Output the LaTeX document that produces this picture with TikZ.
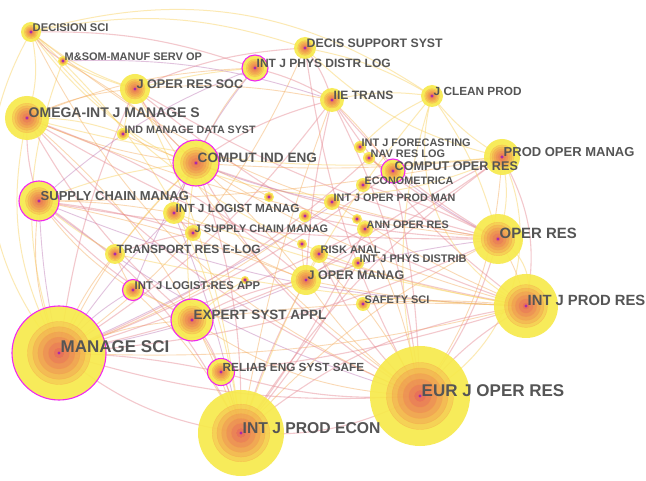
\documentclass[tikz,border=0pt]{standalone}
\usepackage{fontspec}
\setmainfont{Liberation Sans}
\definecolor{ringyel}{RGB}{247,234,76}
\definecolor{ringorg}{RGB}{246,156,70}
\definecolor{ringred}{RGB}{225,70,100}
\definecolor{ringpur}{RGB}{170,40,170}
\definecolor{hubpink}{RGB}{240,40,240}
\definecolor{lblgray}{RGB}{85,85,85}
\definecolor{edgepink}{RGB}{230,135,145}
\definecolor{edgeorg}{RGB}{245,170,90}
\definecolor{edgeyel}{RGB}{250,212,105}
\definecolor{edgemauve}{RGB}{185,110,175}
\tikzset{
  e1/.style={edgepink,line width=1.1pt,opacity=0.45},
  e2/.style={edgeorg,line width=0.9pt,opacity=0.45},
  e3/.style={edgeyel,line width=1pt,opacity=0.5},
  e4/.style={edgemauve,line width=0.9pt,opacity=0.42},
  disc/.style={ringyel,fill opacity=0.92},
  hub/.style={hubpink,line width=1.1pt},
  lbl/.style={anchor=base west,inner sep=0pt,xshift=1.5pt,text=lblgray}
}
\begin{document}
\begin{tikzpicture}[x=1pt,y=-1pt]
  \fill[white] (0,0) rectangle (646,481);
  \useasboundingbox (0,0) rectangle (646,481);
  % journal positions
  \foreach \n/\x/\y in {ds/31/32, msom/63/61, jors/135/89, omega/27/118,
      imds/123/134, cie/196/163, scm/39/201, ijlm/174/213, jscm/193/233,
      tre/115/254, ijlra/133/290, esa/192/320, ms/59/353, ress/221/372,
      ijpe/241/433, ejor/420/396, ijpr/526/306, opres/498/239, pom/502/157,
      jcp/432/96, iie/332/100, dss/305/48, ijpdl/255/68, ijf/360/147,
      nrl/369/158, cor/393/171, econ/363/185, ijopm/332/202, aor/365/229,
      risk/319/254, ijpd/358/263, jom/306/280, ss/363/304,
      u1/269/197, u2/305/216, u3/302/244, u4/245/280, u5/357/219}
    \coordinate (\n) at (\x,\y);
  % co-citation links
  \foreach \a/\b/\bd/\s in {
      ms/ds/35/e3, ms/msom/20/e3, ms/omega/20/e3, ms/scm/15/e2, ms/jors/8/e1,
      ms/cie/10/e2, ms/ejor/-10/e1, ms/ijpe/-15/e1, ms/opres/-10/e1,
      ms/pom/-12/e1, ms/ijpr/-8/e2, ms/jom/-6/e4, ms/iie/-10/e1, ms/cor/-8/e1,
      ms/econ/-5/e4, ms/nrl/-10/e1, ms/esa/10/e2, ms/ijlra/10/e4, ms/tre/10/e2,
      ms/aor/-5/e1, ms/ijopm/-8/e2, ms/dss/-15/e2, ms/ress/5/e1, ms/ijlm/5/e4,
      ejor/opres/-10/e1, ejor/pom/-15/e2, ejor/pom/-45/e3, ejor/ijpr/10/e1,
      ejor/ijpe/15/e1, ejor/cie/15/e1, ejor/iie/-10/e1, ejor/jors/12/e2,
      ejor/omega/12/e1, ejor/scm/10/e4, ejor/jom/10/e2, ejor/cor/-5/e1,
      ejor/jcp/15/e3, ejor/ds/20/e2, ejor/dss/10/e1, ejor/esa/15/e2,
      ejor/risk/10/e1, ejor/aor/-8/e2, ejor/ress/10/e1,
      ijpe/ijpr/15/e1, ijpe/opres/10/e2, ijpe/pom/10/e1, ijpe/cie/-10/e1,
      ijpe/omega/-15/e2, ijpe/scm/-15/e1, ijpe/jom/5/e1, ijpe/esa/-10/e2,
      ijpe/ijlm/-5/e4, ijpe/iie/5/e2, ijpe/jors/-10/e3, ijpe/ds/-20/e3,
      ijpe/ress/-5/e1, ijpe/jcp/10/e3, ijpe/ijlra/-10/e2,
      ijpr/opres/-10/e2, ijpr/opres/-40/e3, ijpr/pom/-20/e1, ijpr/cie/8/e2,
      ijpr/omega/10/e1, ijpr/scm/10/e4, ijpr/jom/5/e2, ijpr/iie/10/e1,
      ijpr/esa/-5/e2, ijpr/ijlm/5/e3, ijpr/tre/5/e3, ijpr/ss/-5/e2,
      ijpr/jors/10/e1, ijpr/ds/20/e3, ijpr/jcp/40/e3,
      opres/pom/-15/e3, opres/cie/5/e1, opres/omega/8/e2, opres/jors/8/e1,
      opres/iie/10/e1, opres/cor/5/e4, opres/scm/5/e1, opres/ds/15/e2,
      opres/jom/-5/e4, opres/nrl/5/e1, opres/econ/-5/e1,
      pom/cie/5/e2, pom/omega/10/e3, pom/jom/-5/e1, pom/ds/40/e3,
      pom/jcp/10/e3, pom/scm/5/e2, pom/dss/15/e3,
      cie/omega/8/e2, cie/scm/-8/e3, cie/jors/8/e1, cie/ijpdl/10/e2,
      cie/iie/10/e1, cie/esa/-8/e3, cie/ijlm/-5/e2, cie/tre/-5/e3,
      cie/jom/5/e2, omega/scm/-10/e1, omega/jors/10/e2, omega/ds/-15/e3,
      omega/imds/10/e3, omega/esa/-10/e1, omega/ijpdl/10/e2, omega/jom/10/e1,
      scm/ijlm/5/e2, scm/jscm/5/e1, scm/ijpdl/10/e4, scm/ijlra/-10/e2,
      scm/tre/-5/e3, scm/jom/5/e2, scm/esa/-10/e1,
      jors/ds/10/e3, jors/msom/5/e3, jors/iie/8/e2, jors/dss/10/e1,
      jors/ijpdl/5/e3, ds/msom/-10/e1, ds/dss/15/e3, ds/jcp/25/e3,
      ds/ijpdl/10/e1, msom/cie/8/e2, msom/iie/10/e4, ijpdl/iie/8/e1,
      ijpdl/ijlm/-10/e4, iie/jcp/10/e3, iie/cor/5/e2, iie/jom/-5/e1,
      dss/iie/10/e1, dss/jcp/10/e3, jcp/opres/10/e3, jcp/ijf/-10/e3,
      jom/esa/-10/e1, jom/ijlm/5/e2, jom/risk/10/e3, esa/ress/10/e1,
      esa/ijlra/-5/e3, tre/ijlra/-5/e2, ijlm/jscm/-5/e1, cor/nrl/10/e2,
      cor/econ/-10/e1, ijf/nrl/-10/e3, risk/ss/-10/e2, ijpd/jom/10/e2,
      u1/cie/-5/e2, u2/opres/-5/e1, u3/jom/-5/e2, u4/esa/-5/e3,
      u5/aor/-10/e2, imds/cie/-5/e2, imds/jors/5/e3, ijopm/cie/5/e4,
      ijopm/ijpr/-5/e2, ijpd/ijpe/5/e1, ss/ejor/5/e2, aor/ijpe/5/e1,
      scm/ms/-5/e4, tre/jscm/5/e1, ijlra/cie/5/e4, ress/ijpr/-5/e1}
    \draw[\s] (\a) to[bend left=\bd] (\b);
  % citation rings
  \foreach \n/\rad in {ds/10, msom/5, jors/15, omega/22, imds/6, cie/23,
      scm/20, ijlm/11, jscm/8, tre/10, ijlra/10.5, esa/21, ms/47, ress/13.5,
      ijpe/43, ejor/50, ijpr/32, opres/25, pom/18, jcp/11, iie/12, dss/11,
      ijpdl/13, ijf/6, nrl/6, cor/12, econ/7, ijopm/8, aor/8, risk/9, ijpd/6,
      jom/15, ss/7, u1/5, u2/6, u3/5, u4/4, u5/5}{
    \fill[disc] (\n) circle[radius=\rad];
    \foreach \k in {1,...,6}{
      \pgfmathtruncatemacro\p{17*\k}
      \fill[ringred!\p!ringorg,fill opacity=0.26] (\n) circle[radius={\rad*(0.78-0.11*\k)}];
      \draw[ringorg,opacity=0.4,line width=0.4pt] (\n) circle[radius={\rad*(0.78-0.11*\k)}];
    }
    \fill[ringpur] (\n) circle[radius=1.6];
  }
  % high centrality
  \foreach \n/\rad in {cie/23, scm/20, ijlra/10.5, esa/21, ms/47, ress/13.5,
      ijpdl/13, cor/12}
    \draw[hub] (\n) circle[radius=\rad];
  % labels
  \foreach \n/\fs/\txt in {ds/11.2/DECISION SCI, msom/11/M\&SOM-MANUF SERV OP,
      jors/12.6/J OPER RES SOC, omega/14/OMEGA-INT J MANAGE S,
      imds/10.7/IND MANAGE DATA SYST, cie/13.6/COMPUT IND ENG,
      scm/13/SUPPLY CHAIN MANAG, ijlm/11.8/INT J LOGIST MANAG,
      jscm/10.9/J SUPPLY CHAIN MANAG, tre/12/TRANSPORT RES E-LOG,
      ijlra/11.3/INT J LOGIST-RES APP, esa/13.5/EXPERT SYST APPL,
      ms/17/MANAGE SCI, ress/11.8/RELIAB ENG SYST SAFE,
      ijpe/15.7/INT J PROD ECON, ejor/17/EUR J OPER RES,
      ijpr/14.8/INT J PROD RES, opres/14.9/OPER RES,
      pom/13/PROD OPER MANAG, jcp/11.8/J CLEAN PROD, iie/12.1/IIE TRANS,
      dss/12.3/DECIS SUPPORT SYST, ijpdl/12/INT J PHYS DISTR LOG,
      ijf/10.9/INT J FORECASTING, nrl/10.9/NAV RES LOG,
      cor/12.6/COMPUT OPER RES, econ/10.8/ECONOMETRICA,
      ijopm/10.8/INT J OPER PROD MAN, aor/10.8/ANN OPER RES,
      risk/11/RISK ANAL, ijpd/11/INT J PHYS DISTRIB,
      jom/12.5/J OPER MANAG, ss/11/SAFETY SCI}
    \node[lbl,font={\bfseries\fontsize{\fs}{\fs}\selectfont}] (\n-t) at (\n) {\txt};
\end{tikzpicture}
\end{document}
